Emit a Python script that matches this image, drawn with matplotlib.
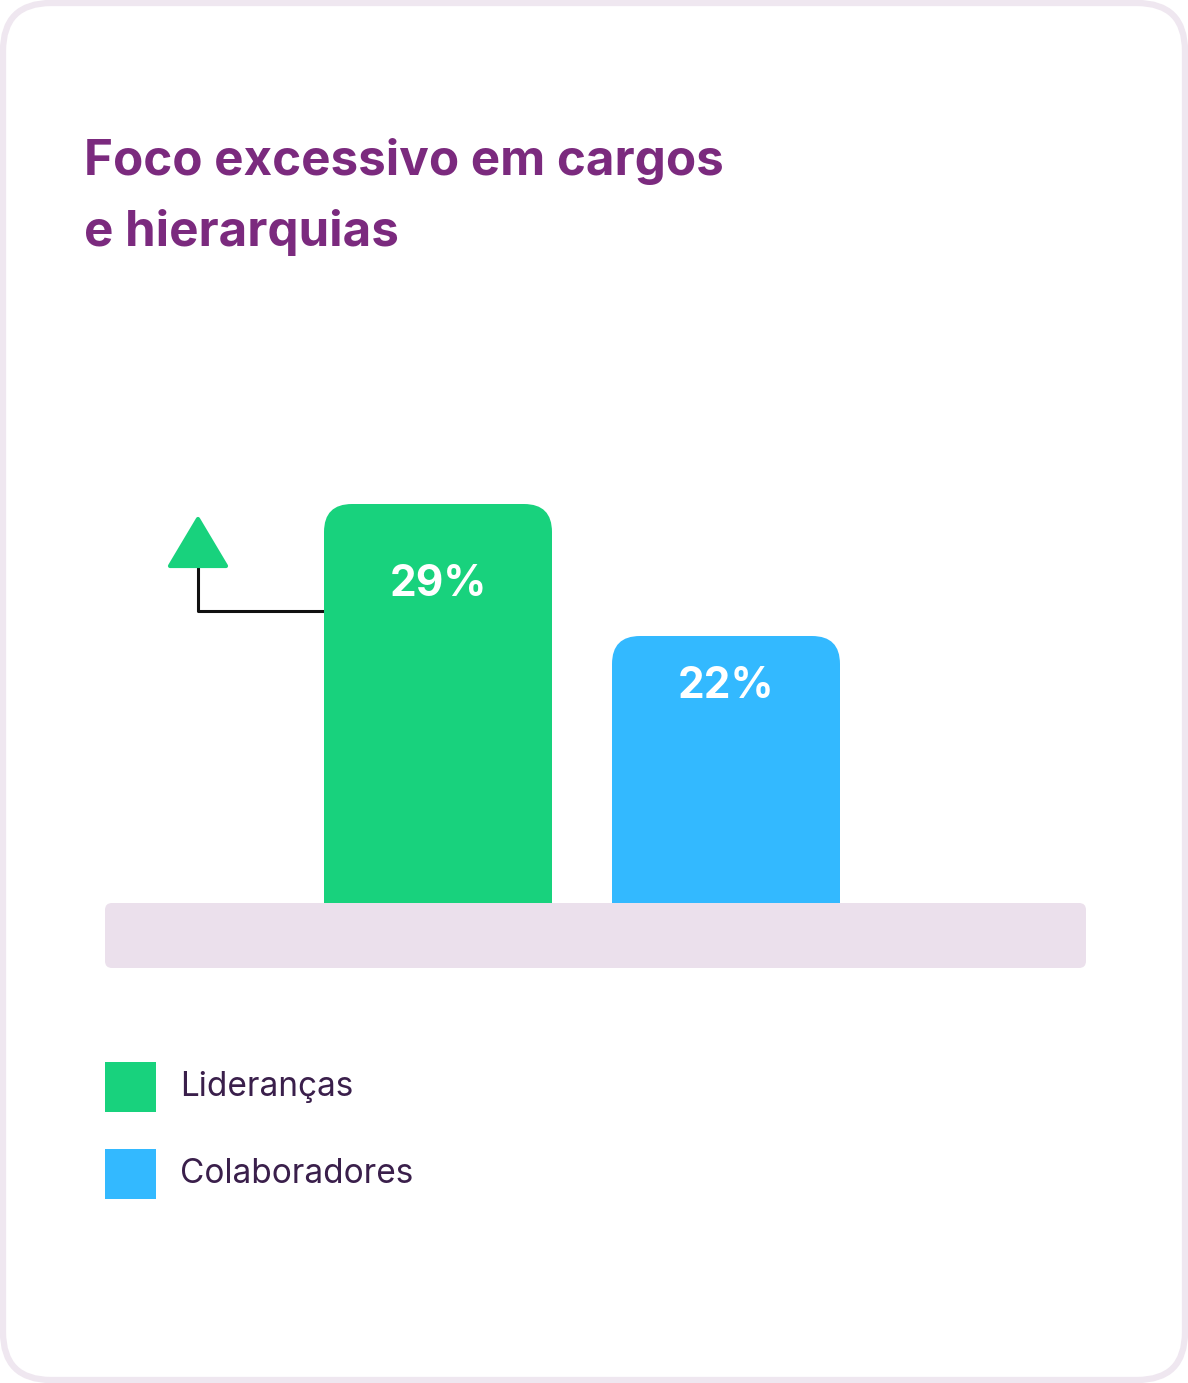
import numpy as np
import matplotlib
matplotlib.use("Agg")
import matplotlib.pyplot as plt
from matplotlib.patches import FancyBboxPatch, Polygon
from matplotlib.lines import Line2D

plt.rcParams['font.family'] = ['Inter', 'DejaVu Sans']

# data
title_lines = ["Foco excessivo em cargos", "e hierarquias"]
categories = ["Lideranças", "Colaboradores"]
values = [29, 22]
labels = ["29%", "22%"]
colors = ["#18D27D", "#33B9FF"]

W, H = 1188, 1383
fig = plt.figure(figsize=(W / 100, H / 100), dpi=100)

# background axes in pixel coordinates (y down)
bg = fig.add_axes([0, 0, 1, 1])
bg.set_xlim(0, W)
bg.set_ylim(H, 0)
bg.axis("off")

card = FancyBboxPatch((3, 3), W - 6, H - 6, boxstyle="round,pad=0,rounding_size=48",
                      fc="white", ec="#EFE7F0", lw=4.5)
bg.add_patch(card)

for i, line in enumerate(title_lines):
    bg.text(84, 175 + i * 71, line, color="#7B2A7E", fontsize=35.5,
            fontweight="bold", va="baseline", ha="left")

# floor strip
floor = FancyBboxPatch((105, 903), 981, 65, boxstyle="round,pad=0,rounding_size=7",
                       fc="#EBE0EC", ec="none", zorder=3)
bg.add_patch(floor)

# bars axes: value scale starts above zero
px_per_unit = 132 / 7
v0 = 29 - 399 / px_per_unit
ax_bottom, ax_top = 903, 404
bx = fig.add_axes([150 / W, (H - ax_bottom) / H, 864 / W, (ax_bottom - ax_top) / H])
bx.set_xlim(-1, 2)
bx.set_ylim(v0, v0 + (ax_bottom - ax_top) / px_per_unit)
bx.axis("off")
bx.patch.set_alpha(0)

x = np.arange(len(values))
bw = 228 / 288
bars = bx.bar(x, values, width=bw, color=colors)
r = 28 / 288
aspect = 288 / px_per_unit
offsets = [-81, -51]
for rect, c, lab, off in zip(bars, colors, labels, offsets):
    rect.set_visible(False)
    fb = FancyBboxPatch((rect.get_x(), rect.get_y()), rect.get_width(), rect.get_height(),
                        boxstyle=f"round,pad=0,rounding_size={r}", mutation_aspect=aspect,
                        fc=c, ec="none")
    bx.add_patch(fb)
    bx.annotate(lab, (rect.get_x() + rect.get_width() / 2, rect.get_height()),
                xytext=(0, off), textcoords="offset pixels", ha="center", va="center",
                color="white", fontsize=30.5, fontweight="bold")

# indicator: triangle with connector to the first bar
tri = Polygon([[198, 519], [170, 566], [226, 566]], closed=True, fc=colors[0],
              ec=colors[0], lw=3, joinstyle="round", zorder=4)
bg.add_patch(tri)
bg.add_line(Line2D([198, 198, 324], [566, 611, 611], color="#111111", lw=2.2, zorder=2))

# legend
for i, (cat, c) in enumerate(zip(categories, colors)):
    y0 = 1062 + i * 87
    bg.add_patch(plt.Rectangle((105, y0), 51, 50, fc=c, ec="none"))
    bg.text(180, y0 + 25, cat, color="#3A1F4B", fontsize=24, va="center", ha="left")

fig.savefig("out.png", dpi=100)
